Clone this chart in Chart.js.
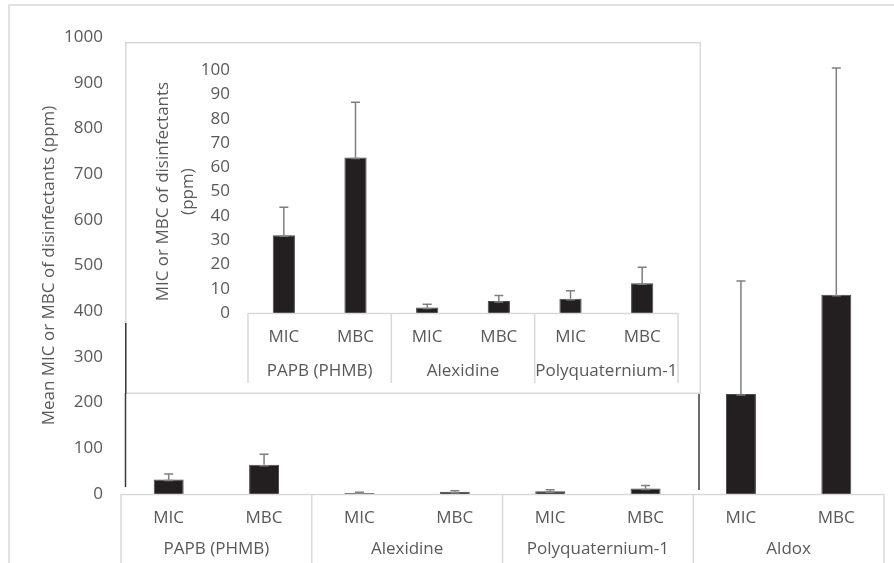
<!DOCTYPE html>
<html><head><meta charset="utf-8">
<script src="https://cdn.jsdelivr.net/npm/chart.js@4/dist/chart.umd.min.js"></script>
<style>
html,body{margin:0;padding:0;background:#fff;}
#wrap{position:relative;width:894px;height:563px;overflow:hidden;background:#fff;}
#main{position:absolute;left:0;top:0;width:894px;height:563px;}
#inset{position:absolute;left:125px;top:42px;width:576px;height:352px;}
</style></head><body>
<div id="wrap"><canvas id="main" width="894" height="563"></canvas><canvas id="inset" width="576" height="352"></canvas></div>
<script>
// ---- data ----
const categories = ['MIC', 'MBC', 'MIC', 'MBC', 'MIC', 'MBC', 'MIC', 'MBC'];
const groups = ['PAPB (PHMB)', 'Alexidine', 'Polyquaternium-1', 'Aldox'];
const meanValues = [32, 64, 2.3, 4.9, 5.9, 12.3, 219, 436];
const errorValues = [11.6, 22.8, 1.3, 2.3, 3.3, 6.5, 247, 496];
const mainTicks = [0, 100, 200, 300, 400, 500, 600, 700, 800, 900, 1000];
const insetTicks = [0, 10, 20, 30, 40, 50, 60, 70, 80, 90, 100];
const insetCount = 6; // inset shows the first three disinfectants
const mainTitle = 'Mean MIC or MBC of disinfectants (ppm)';
const insetTitle = ['MIC or MBC of disinfectants', '(ppm)'];

const FONT = "'Open Sans', 'DejaVu Sans', sans-serif";
const FS = 17;
const TXT = '#595959';
const LINE = '#d9d9d9';
const BAR = '#231f20';
const ERR = '#7f7f7f';

const errorBarPlugin = {
  id: 'errorBars',
  afterDatasetsDraw(chart) {
    const ctx = chart.ctx, meta = chart.getDatasetMeta(0), y = chart.scales.y;
    const ds = chart.data.datasets[0];
    ctx.save();
    ctx.strokeStyle = ERR; ctx.lineWidth = 1.5;
    meta.data.forEach((bar, i) => {
      const v = ds.data[i];
      const yv = y.getPixelForValue(v), yt = y.getPixelForValue(v + ds.errors[i]);
      ctx.beginPath();
      ctx.moveTo(bar.x, yv); ctx.lineTo(bar.x, yt);
      ctx.moveTo(bar.x - 4.5, yt); ctx.lineTo(bar.x + 4.5, yt);
      ctx.moveTo(bar.x - 4.5, yv + 1); ctx.lineTo(bar.x + 4.5, yv + 1);
      ctx.stroke();
    });
    ctx.restore();
  }
};

function catAxisPlugin(groupLabels, lineEnd, off1, off2) {
  return {
    id: 'catAxis',
    afterDraw(chart) {
      const {ctx, chartArea: a, scales: {x}} = chart;
      const labels = chart.data.labels;
      const half = (x.getPixelForValue(1) - x.getPixelForValue(0)) / 2;
      const per = labels.length / groupLabels.length;
      ctx.save();
      ctx.strokeStyle = LINE; ctx.lineWidth = 1.5;
      ctx.beginPath();
      ctx.moveTo(a.left, a.bottom + 0.5); ctx.lineTo(a.right, a.bottom + 0.5);
      for (let g = 0; g <= groupLabels.length; g++) {
        const idx = Math.min(g * per, labels.length - 1);
        const bx = g * per < labels.length ? x.getPixelForValue(idx) - half : x.getPixelForValue(idx) + half;
        ctx.moveTo(bx, a.bottom); ctx.lineTo(bx, lineEnd);
      }
      ctx.stroke();
      ctx.fillStyle = TXT; ctx.font = FS + 'px ' + FONT;
      ctx.textAlign = 'center'; ctx.textBaseline = 'middle';
      labels.forEach((l, i) => ctx.fillText(l, x.getPixelForValue(i), a.bottom + off1));
      groupLabels.forEach((gl, g) => {
        const cx = (x.getPixelForValue(g * per) + x.getPixelForValue(g * per + per - 1)) / 2;
        ctx.fillText(gl, cx, a.bottom + off2);
      });
      ctx.restore();
    }
  };
}

const mainDecor = {
  id: 'mainDecor',
  beforeDraw(chart) {
    const ctx = chart.ctx;
    ctx.save();
    ctx.fillStyle = '#fff'; ctx.fillRect(0, 0, chart.width, chart.height);
    ctx.strokeStyle = LINE; ctx.lineWidth = 1.5;
    ctx.beginPath(); ctx.moveTo(9, 563); ctx.lineTo(9, 5); ctx.lineTo(894, 5); ctx.stroke();
    ctx.restore();
  },
  afterDraw(chart) {
    const ctx = chart.ctx;
    ctx.save();
    ctx.strokeStyle = '#3a3a3a'; ctx.lineWidth = 1.5;
    ctx.beginPath();
    ctx.moveTo(125.5, 393); ctx.lineTo(125.5, 487);
    ctx.moveTo(699, 393); ctx.lineTo(699, 490);
    ctx.stroke();
    ctx.restore();
  }
};

const insetDecor = {
  id: 'insetDecor',
  beforeDraw(chart) {
    const ctx = chart.ctx, w = chart.width, h = chart.height;
    ctx.save();
    ctx.fillStyle = '#fff'; ctx.fillRect(0, 0, w, h);
    ctx.strokeStyle = LINE; ctx.lineWidth = 1.5;
    ctx.strokeRect(0.75, 0.75, w - 1.5, h - 1.5);
    ctx.strokeStyle = '#3a3a3a';
    ctx.beginPath(); ctx.moveTo(0.75, 281); ctx.lineTo(0.75, h); ctx.stroke();
    ctx.restore();
  }
};

function yScale(max, ticks, title, titlePadTop, lineHeight, width) {
  return {
    min: 0, max: max,
    afterBuildTicks(s) { s.ticks = ticks.map(v => ({value: v})); },
    afterFit(s) { s.width = width; },
    grid: {display: false, drawTicks: false},
    border: {display: false},
    ticks: {color: TXT, font: {family: FONT, size: FS}, padding: 18, callback: v => String(v)},
    title: {display: true, text: title, color: TXT, font: {family: FONT, size: FS, lineHeight: lineHeight}, padding: {top: titlePadTop, bottom: 0}}
  };
}

new Chart(document.getElementById('main'), {
  type: 'bar',
  data: {labels: categories, datasets: [{data: meanValues, errors: errorValues, backgroundColor: BAR, borderColor: '#4a4a4a', borderWidth: 1, categoryPercentage: 1, barPercentage: 0.314}]},
  options: {
    responsive: false, animation: false, devicePixelRatio: 1,
    layout: {padding: {left: 0, top: 37, right: 10, bottom: 69}},
    plugins: {legend: {display: false}, tooltip: {enabled: false}},
    scales: {
      x: {display: false},
      y: yScale(1000, mainTicks, mainTitle, 39, 1.2, 121)
    }
  },
  plugins: [mainDecor, errorBarPlugin, catAxisPlugin(groups, 563, 24, 55)]
});

new Chart(document.getElementById('inset'), {
  type: 'bar',
  data: {labels: categories.slice(0, insetCount), datasets: [{data: meanValues.slice(0, insetCount), errors: errorValues.slice(0, insetCount), backgroundColor: BAR, borderColor: '#4a4a4a', borderWidth: 1, categoryPercentage: 1, barPercentage: 0.31}]},
  options: {
    responsive: false, animation: false, devicePixelRatio: 1,
    layout: {padding: {left: 0, top: 21, right: 23, bottom: 81}},
    plugins: {legend: {display: false}, tooltip: {enabled: false}},
    scales: {
      x: {display: false},
      y: yScale(100, insetTicks, insetTitle, 26, 1.45, 123)
    }
  },
  plugins: [insetDecor, errorBarPlugin, catAxisPlugin(groups.slice(0, insetCount / 2), 341, 24, 58)]
});
</script>
</body></html>
